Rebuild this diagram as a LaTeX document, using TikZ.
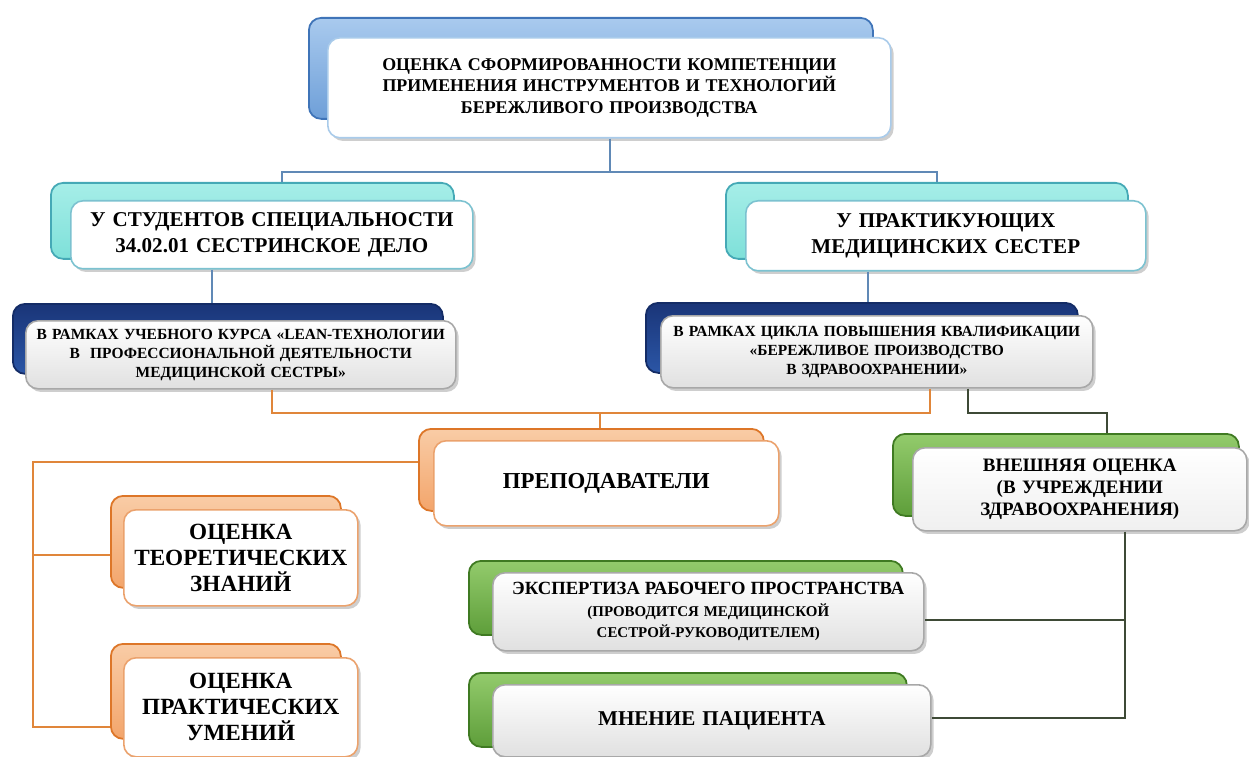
\documentclass[tikz,border=0pt]{standalone}
\usepackage{fontspec}
\setmainfont{Liberation Serif}
\usetikzlibrary{shadows}
\newdimen\pxu \pxu=0.02cm

\definecolor{blueback}{HTML}{6E9FD8}
\definecolor{bluebacktop}{HTML}{A9CAEE}
\definecolor{blueedge}{HTML}{3F74B8}
\definecolor{bluefrontedge}{HTML}{A9CBEA}
\definecolor{tealback}{HTML}{7EE0D9}
\definecolor{tealbacktop}{HTML}{A6EEE8}
\definecolor{tealedge}{HTML}{45A9B6}
\definecolor{tealfrontedge}{HTML}{7CC2D0}
\definecolor{navyback}{HTML}{2B56A6}
\definecolor{navybacktop}{HTML}{1A3578}
\definecolor{navyedge}{HTML}{142C66}
\definecolor{grayfrontedge}{HTML}{A8A8A8}
\definecolor{orangeback}{HTML}{F3A56B}
\definecolor{orangebacktop}{HTML}{F9CCA6}
\definecolor{orangeedge}{HTML}{DD7628}
\definecolor{orangefrontedge}{HTML}{EBA26D}
\definecolor{greenback}{HTML}{5E9E3A}
\definecolor{greenbacktop}{HTML}{93CB6C}
\definecolor{greenedge}{HTML}{3F7A22}
\definecolor{linkblue}{HTML}{6089B6}
\definecolor{linkorange}{HTML}{E0863A}
\definecolor{linkgreen}{HTML}{3E4A36}

\tikzset{
  backbox/.style={anchor=north west, rounded corners=7pt, line width=1pt, inner sep=0pt},
  frontbox/.style={anchor=north west, rounded corners=7pt, line width=0.9pt, inner sep=2pt,
    align=center, fill=white,
    drop shadow={shadow xshift=1.6pt, shadow yshift=-1.8pt, opacity=0.35, fill=black!55}},
  bk blue/.style={backbox, draw=blueedge, top color=bluebacktop, bottom color=blueback},
  bk teal/.style={backbox, draw=tealedge, top color=tealbacktop, bottom color=tealback},
  bk navy/.style={backbox, draw=navyedge, top color=navybacktop, bottom color=navyback},
  bk orange/.style={backbox, draw=orangeedge, top color=orangebacktop, bottom color=orangeback},
  bk green/.style={backbox, draw=greenedge, top color=greenbacktop, bottom color=greenback},
  fr blue/.style={frontbox, draw=bluefrontedge},
  fr teal/.style={frontbox, draw=tealfrontedge},
  fr gray/.style={frontbox, draw=grayfrontedge, top color=white, bottom color=black!12},
  fr orange/.style={frontbox, draw=orangefrontedge},
  fr green/.style={frontbox, draw=grayfrontedge, top color=white, bottom color=black!6},
  link blue/.style={draw=linkblue, line width=1.1pt},
  link orange/.style={draw=linkorange, line width=1.1pt},
  link green/.style={draw=linkgreen, line width=1.1pt},
}

\newcommand{\fs}[2]{\fontsize{#1}{#2}\selectfont\bfseries}

\begin{document}
\begin{tikzpicture}[x=0.02cm, y=-0.02cm]
  \useasboundingbox (0,0) rectangle (1249,757);

  % top level
  \node[bk blue, minimum width=564\pxu, minimum height=101\pxu] (topb) at (308,17) {};
  \node[fr blue, minimum width=563\pxu, minimum height=100\pxu, text width=540\pxu,
        font=\fs{10.2}{12.2}] (top) at (327,37)
    {ОЦЕНКА СФОРМИРОВАННОСТИ КОМПЕТЕНЦИИ\\ПРИМЕНЕНИЯ ИНСТРУМЕНТОВ И ТЕХНОЛОГИЙ\\БЕРЕЖЛИВОГО ПРОИЗВОДСТВА};

  % second level
  \node[bk teal, minimum width=403\pxu, minimum height=76\pxu] (ltb) at (50,182) {};
  \node[fr teal, minimum width=402\pxu, minimum height=68\pxu, text width=390\pxu,
        font=\fs{12}{15.2}] (lt) at (70,200)
    {У СТУДЕНТОВ СПЕЦИАЛЬНОСТИ\\34.02.01 СЕСТРИНСКОЕ ДЕЛО};
  \node[bk teal, minimum width=402\pxu, minimum height=76\pxu] (rtb) at (725,182) {};
  \node[fr teal, minimum width=400\pxu, minimum height=70\pxu, text width=390\pxu,
        font=\fs{12}{15.2}] (rt) at (745,200)
    {У ПРАКТИКУЮЩИХ\\МЕДИЦИНСКИХ СЕСТЕР};

  % courses
  \node[bk navy, minimum width=430\pxu, minimum height=70\pxu] (ldb) at (12,303) {};
  \node[fr gray, minimum width=430\pxu, minimum height=68\pxu, text width=420\pxu,
        font=\fs{8.8}{10.8}] (ld) at (25,320)
    {В РАМКАХ УЧЕБНОГО КУРСА «LEAN-ТЕХНОЛОГИИ\\В~~ПРОФЕССИОНАЛЬНОЙ ДЕЯТЕЛЬНОСТИ\\МЕДИЦИНСКОЙ СЕСТРЫ»};
  \node[bk navy, minimum width=432\pxu, minimum height=70\pxu] (rdb) at (645,302) {};
  \node[fr gray, minimum width=432\pxu, minimum height=72\pxu, text width=420\pxu,
        font=\fs{8.8}{10.8}] (rd) at (660,315)
    {В РАМКАХ ЦИКЛА ПОВЫШЕНИЯ КВАЛИФИКАЦИИ\\«БЕРЕЖЛИВОЕ ПРОИЗВОДСТВО\\В ЗДРАВООХРАНЕНИИ»};

  % teachers
  \node[bk orange, minimum width=345\pxu, minimum height=82\pxu] (prb) at (418,428) {};
  \node[fr orange, minimum width=345\pxu, minimum height=85\pxu, text width=330\pxu,
        font=\fs{13}{15}] (pr) at (433,440)
    {ПРЕПОДАВАТЕЛИ};

  \node[bk orange, minimum width=230\pxu, minimum height=92\pxu] (tpb) at (110,495) {};
  \node[fr orange, minimum width=234\pxu, minimum height=96\pxu, text width=225\pxu,
        font=\fs{13.2}{14.8}] (tp) at (123,509)
    {ОЦЕНКА\\ТЕОРЕТИЧЕСКИХ\\ЗНАНИЙ};
  \node[bk orange, minimum width=230\pxu, minimum height=95\pxu] (ppb) at (110,643) {};
  \node[fr orange, minimum width=234\pxu, minimum height=99\pxu, text width=225\pxu,
        font=\fs{13.2}{14.8}] (pp) at (123,657)
    {ОЦЕНКА\\ПРАКТИЧЕСКИХ\\УМЕНИЙ};

  % external assessment
  \node[bk green, minimum width=346\pxu, minimum height=82\pxu] (vnb) at (892,433) {};
  \node[fr green, minimum width=334\pxu, minimum height=83\pxu, text width=320\pxu,
        font=\fs{10.8}{12.5}] (vn) at (912,447)
    {ВНЕШНЯЯ ОЦЕНКА\\(В УЧРЕЖДЕНИИ\\ЗДРАВООХРАНЕНИЯ)};

  \node[bk green, minimum width=434\pxu, minimum height=74\pxu] (exb) at (468,560) {};
  \node[fr gray, minimum width=431\pxu, minimum height=78\pxu, text width=420\pxu,
        font=\fs{8.5}{12.3}] (ex) at (492,572)
    {{\fontsize{10.6}{12.3}\selectfont ЭКСПЕРТИЗА РАБОЧЕГО ПРОСТРАНСТВА}\\(ПРОВОДИТСЯ МЕДИЦИНСКОЙ\\СЕСТРОЙ-РУКОВОДИТЕЛЕМ)};
  \node[bk green, minimum width=438\pxu, minimum height=74\pxu] (mnb) at (468,672) {};
  \node[fr gray, minimum width=438\pxu, minimum height=72\pxu, text width=420\pxu,
        font=\fs{12}{14}] (mn) at (492,684)
    {МНЕНИЕ ПАЦИЕНТА};

  % guide coordinates for the connectors
  \coordinate (ja) at (610,172);
  \coordinate (xa) at (282,0);
  \coordinate (xb) at (937,0);
  \coordinate (xc) at (212,0);
  \coordinate (xd) at (868,0);
  \coordinate (jo) at (600,413);
  \coordinate (xe) at (272,0);
  \coordinate (xf) at (930,0);
  \coordinate (yo) at (0,462);
  \coordinate (xl) at (33,0);
  \coordinate (yt) at (0,555);
  \coordinate (yp) at (0,727);
  \coordinate (jg) at (968,413);
  \coordinate (xg) at (1107,0);
  \coordinate (xh) at (1125,0);
  \coordinate (ye) at (0,620);
  \coordinate (ym) at (0,718);

  % connectors
  \draw[link blue] (top.south -| ja) -- (ja);
  \draw[link blue] (ltb.north -| xa) |- (ja) -| (rtb.north -| xb);
  \draw[link blue] (lt.south -| xc) -- (ldb.north -| xc);
  \draw[link blue] (rt.south -| xd) -- (rdb.north -| xd);

  \draw[link orange] (ld.south -| xe) |- (jo) -| (rd.south -| xf);
  \draw[link orange] (jo) -- (prb.north -| jo);
  \draw[link orange] (prb.west |- yo) -| (xl |- yp) -- (ppb.west |- yp);
  \draw[link orange] (xl |- yt) -- (tpb.west |- yt);

  \draw[link green] (rd.south -| jg) -- (jg) -| (vnb.north -| xg);
  \draw[link green] (vn.south -| xh) -- (xh |- ym) -- (mn.east |- ym);
  \draw[link green] (xh |- ye) -- (ex.east |- ye);
\end{tikzpicture}
\end{document}
